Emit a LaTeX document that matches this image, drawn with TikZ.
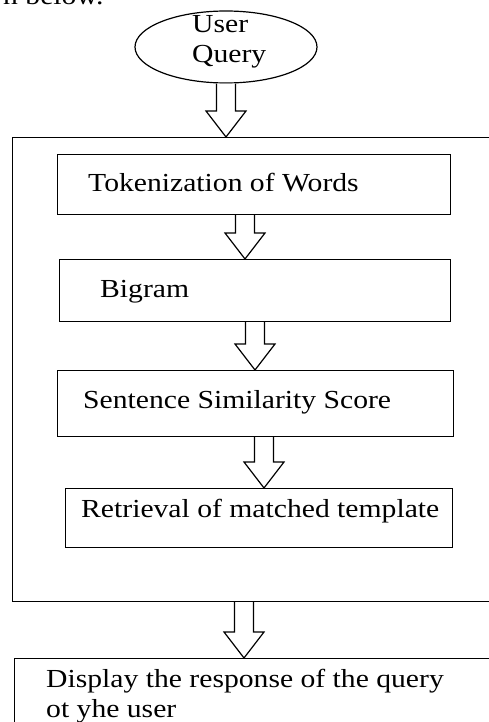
\documentclass[tikz,border=0pt]{standalone}
\usepackage{fontspec}
\setmainfont{Liberation Serif}
\usetikzlibrary{shapes.geometric,calc}
\tikzset{
  box/.style={draw=black, line width=1.2pt, rectangle, inner sep=0pt, anchor=north west},
  txt/.style={inner sep=0pt, anchor=base west, xscale=1.14, font=\fontsize{26}{30}\selectfont},
  arr/.style={draw=black, line width=1.2pt, fill=white, line join=miter},
}
\newcommand\barrow[3]{\draw[arr] let \p1=(#1.south), \p2=(#2.north) in
  (#3pt-9.5pt,\y1) -- (#3pt-9.5pt,\y2+26pt) -- (#3pt-20pt,\y2+26pt) -- (#3pt,\y2)
  -- (#3pt+20pt,\y2+26pt) -- (#3pt+9.5pt,\y2+26pt) -- (#3pt+9.5pt,\y1);}
\begin{document}
\begin{tikzpicture}[x=1pt,y=-1pt]
\useasboundingbox (0,0) rectangle (489,722);
\clip (0,0) rectangle (489,722);
\fill[white] (0,0) rectangle (489,722);
% cropped text at top
\node[txt] (cut) at (3,5) {n below.};
% user query
\node[ellipse, draw=black, line width=1.2pt, minimum width=182pt, minimum height=72pt, inner sep=0pt] (q) at (226,47) {};
\node[txt] (q1) at (192,33) {User};
\node[txt] (q2) at (192,63) {Query};
% big container
\node[box, minimum width=520pt, minimum height=464pt] (big) at (12,137) {};
% steps
\node[box, minimum width=393pt, minimum height=60pt] (b1) at (57,154) {};
\node[txt] (t1) at (88,191) {Tokenization of Words};
\node[box, minimum width=391pt, minimum height=62pt] (b2) at (59,259) {};
\node[txt] (t2) at (100,297) {Bigram};
\node[box, minimum width=396pt, minimum height=66pt] (b3) at (57,370) {};
\node[txt] (t3) at (83,408) {Sentence Similarity Score};
\node[box, minimum width=387pt, minimum height=59pt] (b4) at (65,488) {};
\node[txt] (t4) at (81,517) {Retrieval of matched template};
% output
\node[box, minimum width=500pt, minimum height=100pt] (out) at (14,658) {};
\node[txt] (o1) at (46,687) {Display the response of the query};
\node[txt] (o2) at (46,717) {ot yhe user};
% arrows
\barrow{q}{big}{226}
\barrow{b1}{b2}{245}
\barrow{b2}{b3}{255}
\barrow{b3}{b4}{264}
\barrow{big}{out}{244}
\end{tikzpicture}
\end{document}
